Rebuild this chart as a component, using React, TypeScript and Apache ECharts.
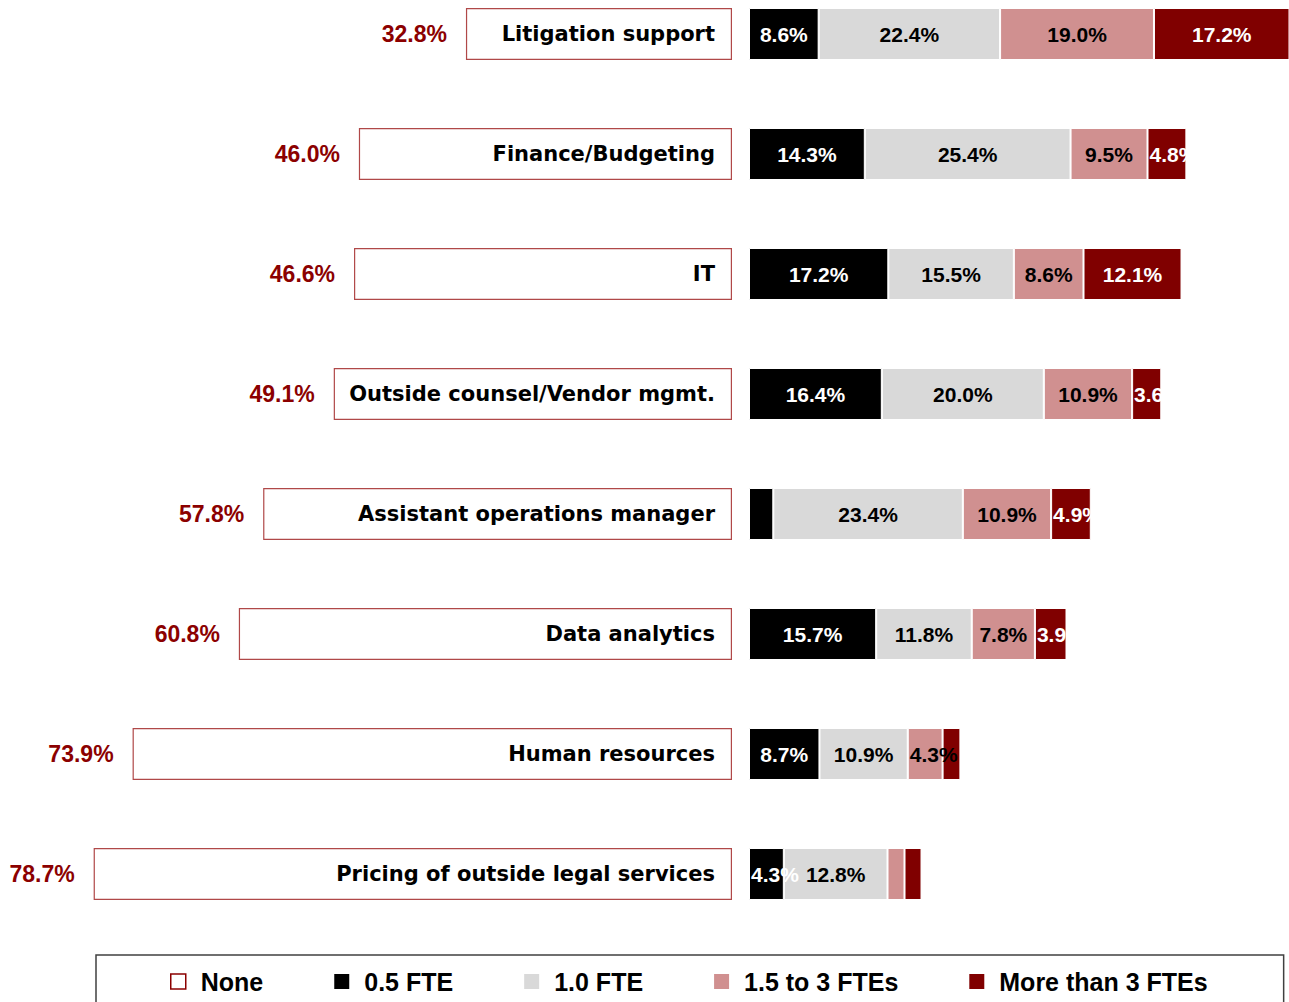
import React, { useEffect, useRef } from 'react';
import * as echarts from 'echarts';

const categories = [
  'Litigation support',
  'Finance/Budgeting',
  'IT',
  'Outside counsel/Vendor mgmt.',
  'Assistant operations manager',
  'Data analytics',
  'Human resources',
  'Pricing of outside legal services',
];
const seriesNames = ['None', '0.5 FTE', '1.0 FTE', '1.5 to 3 FTEs', 'More than 3 FTEs'];
const noneValues = [32.8, 46.0, 46.6, 49.1, 57.8, 60.8, 73.9, 78.7];
const halfFte = [8.6, 14.3, 17.2, 16.4, 3.0, 15.7, 8.7, 4.3];
const oneFte = [22.4, 25.4, 15.5, 20.0, 23.4, 11.8, 10.9, 12.8];
const oneHalfToThree = [19.0, 9.5, 8.6, 10.9, 10.9, 7.8, 4.3, 2.1];
const moreThanThree = [17.2, 4.8, 12.1, 3.6, 4.9, 3.9, 2.2, 2.1];

const stackColors = ['#000000', '#D9D9D9', '#D09090', '#800000'];
const stackLabelColors = ['#FFFFFF', '#000000', '#000000', '#FFFFFF'];
const noneBorder = '#B04848';
const pctColor = '#8B0000';

export default function App() {
  const ref = useRef<HTMLDivElement>(null);
  useEffect(() => {
    if (!ref.current) return;
    const chart = echarts.init(ref.current, undefined, { renderer: 'svg' });
    const stacks = [halfFte, oneFte, oneHalfToThree, moreThanThree];
    const fmt = (p: any) => (p.value > 3.2 ? Number(p.value).toFixed(1) + '%' : '');
    // narrow segments: label starts at the segment's left edge (as in the source)
    const toData = (vals: number[]) =>
      vals.map((v) =>
        v < 6 ? { value: v, label: { position: 'insideLeft', distance: 2 } } : { value: v }
      );
    const option: any = {
      animation: false,
      backgroundColor: '#FFFFFF',
      grid: [
        { left: 2, width: 730, top: 34, height: 840 },
        { left: 749, right: 0, top: 34, height: 840 },
      ],
      xAxis: [
        { type: 'value', gridIndex: 0, min: 0, max: 90, inverse: true, show: false },
        { type: 'value', gridIndex: 1, min: 0, max: 66.67, show: false },
      ],
      yAxis: [
        {
          type: 'category',
          gridIndex: 0,
          data: categories,
          inverse: true,
          boundaryGap: false,
          position: 'right',
          z: 10,
          axisLine: { show: false },
          axisTick: { show: false },
          axisLabel: {
            inside: true,
            margin: 17,
            color: '#000000',
            fontFamily: 'DejaVu Sans',
            fontWeight: 'bold',
            fontSize: 21,
          },
        },
        {
          type: 'category',
          gridIndex: 1,
          data: categories,
          inverse: true,
          boundaryGap: false,
          show: false,
        },
      ],
      legend: {
        left: 96,
        top: 955,
        padding: [14, 76, 30, 74],
        itemGap: 71,
        itemWidth: 15,
        itemHeight: 15,
        borderColor: '#404040',
        borderWidth: 1.5,
        icon: 'rect',
        textStyle: {
          fontFamily: 'Liberation Sans',
          fontWeight: 'bold',
          fontSize: 25,
          color: '#000000',
          padding: [0, 0, 0, 10],
        },
        data: [
          { name: seriesNames[0], itemStyle: { color: '#FFFFFF', borderColor: pctColor, borderWidth: 1.5 } },
          { name: seriesNames[1], itemStyle: { borderWidth: 0 } },
          { name: seriesNames[2], itemStyle: { borderWidth: 0 } },
          { name: seriesNames[3], itemStyle: { borderWidth: 0 } },
          { name: seriesNames[4], itemStyle: { borderWidth: 0 } },
        ],
      },
      series: [
        {
          name: seriesNames[0],
          type: 'bar',
          xAxisIndex: 0,
          yAxisIndex: 0,
          barWidth: 52,
          data: noneValues,
          itemStyle: { color: '#FFFFFF', borderColor: noneBorder, borderWidth: 1.2 },
          label: {
            show: true,
            position: 'left',
            distance: 19,
            formatter: (p: any) => Number(p.value).toFixed(1) + '%',
            color: pctColor,
            fontFamily: 'Liberation Sans',
            fontWeight: 'bold',
            fontSize: 23,
          },
        },
        ...stacks.map((vals, i) => ({
          name: seriesNames[i + 1],
          type: 'bar',
          stack: 'fte',
          xAxisIndex: 1,
          yAxisIndex: 1,
          barWidth: 52,
          data: toData(vals),
          itemStyle: { color: stackColors[i], borderColor: '#FFFFFF', borderWidth: 1 },
          label: {
            show: true,
            position: 'inside',
            formatter: fmt,
            color: stackLabelColors[i],
            fontFamily: 'Liberation Sans',
            fontWeight: 'bold',
            fontSize: 21,
          },
        })),
      ],
    };
    chart.setOption(option);
    return () => chart.dispose();
  }, []);
  return (
    <div
      ref={ref}
      style={{ position: 'absolute', left: 0, top: 0, width: 1289, height: 1002, background: '#FFFFFF' }}
    />
  );
}
